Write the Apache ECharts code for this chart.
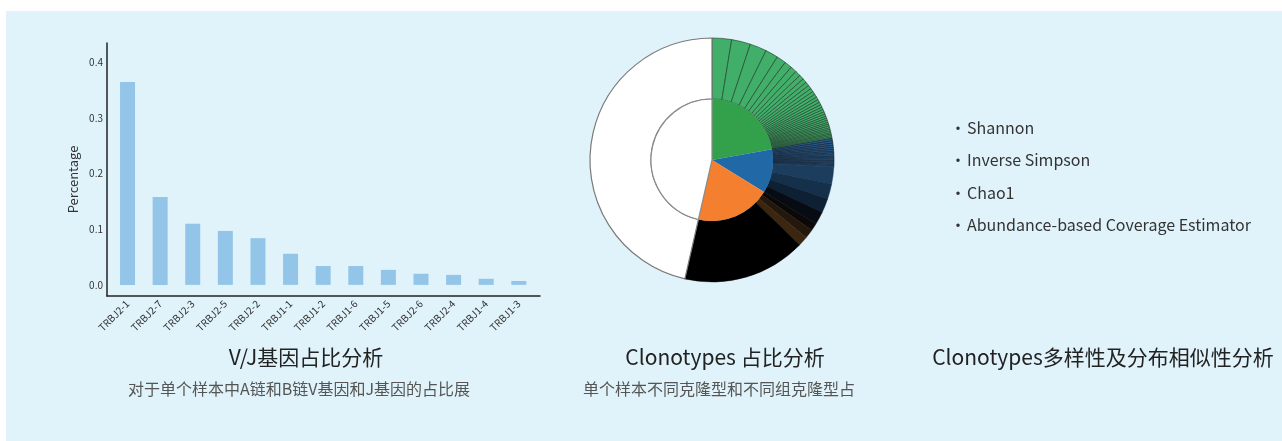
<!DOCTYPE html>
<html>
<head>
<meta charset="utf-8">
<script src="https://cdn.jsdelivr.net/npm/echarts@6/dist/echarts.min.js"></script>
<style>
  html, body { margin: 0; padding: 0; background: #fff; }
  .wrap { position: relative; width: 1282px; height: 441px; overflow: hidden; }
  .panel { position: absolute; left: 6px; top: 11px; right: 0; bottom: 0; background: #e0f3fa; }
  #chart { position: absolute; left: 0; top: 0; width: 1282px; height: 441px; }
</style>
</head>
<body>
<div class="wrap">
  <div class="panel"></div>
  <div id="chart"></div>
</div>
<script>
// V/J 基因占比
var jGenes = ['TRBJ2-1', 'TRBJ2-7', 'TRBJ2-3', 'TRBJ2-5', 'TRBJ2-2', 'TRBJ1-1', 'TRBJ1-2', 'TRBJ1-6', 'TRBJ1-5', 'TRBJ2-6', 'TRBJ2-4', 'TRBJ1-4', 'TRBJ1-3']
var jPercent = [0.365, 0.158, 0.110, 0.097, 0.084, 0.056, 0.034, 0.034, 0.027, 0.020, 0.018, 0.011, 0.007]
var yTicks = [0, 0.1, 0.2, 0.3, 0.4]

// Clonotypes 占比 (%), 外圈为单个克隆型, 内圈为分组
var greenClones = [2.58, 2.50, 2.22, 1.69, 1.25, 1.00, 0.83, 0.72, 0.64, 0.58, 0.53, 0.50, 0.47, 0.44, 0.42, 0.39, 0.39, 0.36, 0.36, 0.33, 0.33, 0.31, 0.31, 0.28, 0.28, 0.28, 0.25, 0.25, 0.25, 0.22, 0.22, 0.22, 0.19, 0.19, 0.19, 0.17]
var blueClones = [0.33, 0.31, 0.28, 0.28, 0.25, 0.25, 0.22, 0.22, 0.22, 0.19, 0.19, 0.19, 0.19, 0.17, 0.17, 0.17, 0.17]
var blueRare = [2.2, 2.0, 1.9, 1.7]
var orangeRare = [1.0, 1.2, 1.3]
var orangeSingletons = [16.3]
var otherShare = [46.4]

// 多样性指数
var diversityIndices = ['Shannon', 'Inverse Simpson', 'Chao1', 'Abundance-based Coverage Estimator']

var titles = [
  { text: 'V/J基因占比分析', sub: '对于单个样本中A链和B链V基因和J基因的占比展', x: 306, subX: 299 },
  { text: 'Clonotypes 占比分析', sub: '单个样本不同克隆型和不同组克隆型占', x: 725, subX: 719 },
  { text: 'Clonotypes多样性及分布相似性分析', sub: '', x: 1103, subX: 1103 }
]

var FONT = '"Noto Sans CJK SC", "Noto Sans", sans-serif'

function sum(arr) {
  return arr.reduce(function (a, b) { return a + b }, 0)
}

var blueRareColors = ['#1c3d5e', '#15304b', '#0e2034', '#070c14']
var orangeRareColors = ['#0b0907', '#24170c', '#3d2610']

var outerData = []
greenClones.forEach(function (v) {
  outerData.push({ value: v, itemStyle: { color: '#41ae6a', borderColor: 'rgba(32,60,40,0.9)', borderWidth: 0.7 } })
})
blueClones.forEach(function (v) {
  outerData.push({ value: v, itemStyle: { color: '#27598a', borderColor: 'rgba(18,32,48,0.9)', borderWidth: 0.7 } })
})
blueRare.forEach(function (v, i) {
  outerData.push({ value: v, itemStyle: { color: blueRareColors[i], borderColor: blueRareColors[i], borderWidth: 0.5 } })
})
orangeRare.forEach(function (v, i) {
  outerData.push({ value: v, itemStyle: { color: orangeRareColors[i], borderColor: orangeRareColors[i], borderWidth: 0.5 } })
})
orangeSingletons.forEach(function (v) {
  outerData.push({ value: v, itemStyle: { color: '#000', borderColor: '#000', borderWidth: 0.5 } })
})
otherShare.forEach(function (v) {
  outerData.push({ value: v, itemStyle: { color: '#fff', borderColor: '#7a7a7a', borderWidth: 1.2 } })
})

var innerData = [
  { value: sum(greenClones), itemStyle: { color: '#33a04c' } },
  { value: sum(blueClones) + sum(blueRare), itemStyle: { color: '#2169a6' } },
  { value: sum(orangeRare) + sum(orangeSingletons), itemStyle: { color: '#f47f2f' } },
  { value: sum(otherShare), itemStyle: { color: '#fff', borderColor: '#8a8a8a', borderWidth: 1.2 } }
]

var graphic = []
titles.forEach(function (t) {
  graphic.push({
    type: 'text', x: t.x, y: 357, silent: true,
    style: { text: t.text, fontSize: 21, fontFamily: FONT, fill: '#222', align: 'center', verticalAlign: 'middle' }
  })
  if (t.sub) {
    graphic.push({
      type: 'text', x: t.subX, y: 389, silent: true,
      style: { text: t.sub, fontSize: 16, fontFamily: FONT, fill: '#555', align: 'center', verticalAlign: 'middle' }
    })
  }
})
diversityIndices.forEach(function (name, i) {
  var y = 128 + i * 32.3
  graphic.push({
    type: 'text', x: 958, y: y, silent: true,
    style: { text: '·', fontSize: 16, fontFamily: FONT, fill: '#333', align: 'center', verticalAlign: 'middle' }
  })
  graphic.push({
    type: 'text', x: 967, y: y, silent: true,
    style: { text: name, fontSize: 16, fontFamily: FONT, fill: '#333', align: 'left', verticalAlign: 'middle' }
  })
})

var chart = echarts.init(document.getElementById('chart'))
var option = {
  animation: false,
  backgroundColor: 'transparent',
  textStyle: { fontFamily: FONT },
  grid: { left: 107, top: 43, width: 433, height: 253 },
  xAxis: {
    type: 'value',
    min: -0.63,
    max: 12.65,
    axisLine: { onZero: false, lineStyle: { color: '#222', width: 1.5 } },
    axisTick: { show: false },
    splitLine: { show: false },
    axisLabel: {
      customValues: jGenes.map(function (g, i) { return i }),
      formatter: function (v) { return jGenes[Math.round(v)] },
      rotate: 45,
      fontSize: 10,
      color: '#333',
      margin: 6
    }
  },
  yAxis: {
    type: 'value',
    min: -0.02,
    max: 0.435,
    name: 'Percentage',
    nameLocation: 'middle',
    nameGap: 27,
    nameTextStyle: { fontSize: 13, color: '#333', padding: [0, 20, 0, 0] },
    axisLine: { show: true, onZero: false, lineStyle: { color: '#222', width: 1.5 } },
    axisTick: { show: false },
    splitLine: { show: false },
    axisLabel: {
      customValues: yTicks,
      formatter: function (v) { return v.toFixed(1) },
      fontSize: 10,
      color: '#333',
      margin: 4
    }
  },
  series: [
    {
      type: 'bar',
      barWidth: 15,
      itemStyle: { color: '#93c5e9' },
      silent: true,
      data: jPercent.map(function (v, i) { return [i, v] })
    },
    {
      type: 'pie',
      center: [712, 160],
      radius: [61, 122],
      startAngle: 90,
      clockwise: true,
      silent: true,
      label: { show: false },
      labelLine: { show: false },
      emphasis: { disabled: true },
      data: outerData
    },
    {
      type: 'pie',
      center: [712, 160],
      radius: [0, 61],
      startAngle: 90,
      clockwise: true,
      silent: true,
      label: { show: false },
      labelLine: { show: false },
      emphasis: { disabled: true },
      data: innerData
    }
  ],
  graphic: graphic
}
chart.setOption(option)
</script>
</body>
</html>
